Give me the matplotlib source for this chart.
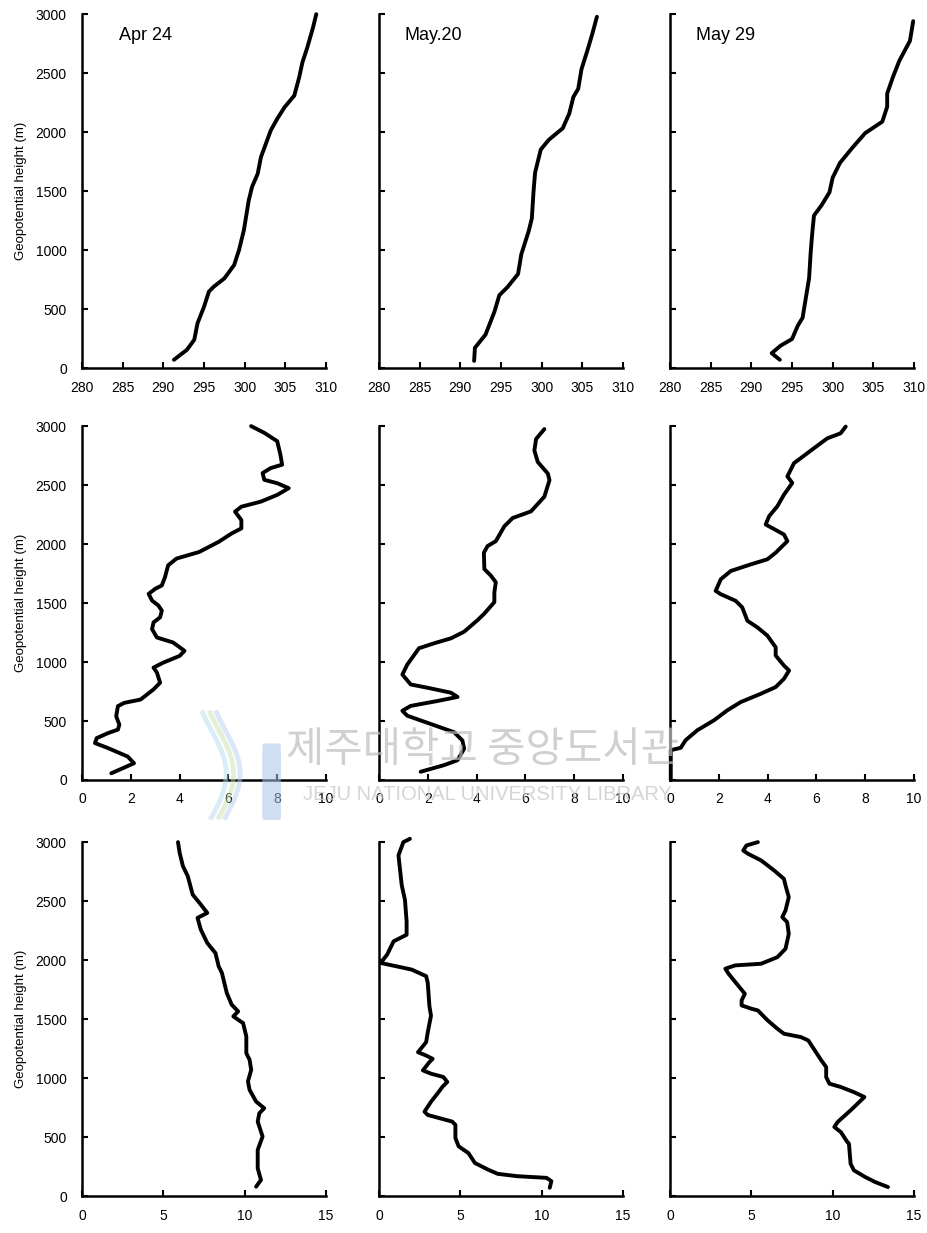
import numpy as np
import matplotlib.pyplot as plt
from matplotlib.patches import FancyBboxPatch

plt.rcParams['font.family'] = ['Liberation Sans', 'DejaVu Sans']

dates = ['Apr 24', 'May.20', 'May 29']

# row 1: potential temperature (K)
theta_apr24_x = [291.3, 292.9, 293.8, 294.2, 295.0, 295.6, 296.2, 297.5, 298.7, 299.3, 299.9, 300.5,
                 300.9, 301.6, 302.0, 302.6, 303.2, 304.0, 304.9, 306.1, 306.7, 307.1, 307.7, 308.4, 308.8]
theta_apr24_z = [70, 155, 240, 380, 520, 648, 690, 760, 873, 1000, 1169, 1422,
                 1535, 1648, 1789, 1901, 2014, 2113, 2211, 2310, 2465, 2592, 2718, 2887, 3000]

theta_may20_x = [291.7, 291.8, 293.1, 294.2, 294.8, 295.8, 297.1, 297.5, 298.4, 298.8, 299.0, 299.2,
                 299.9, 300.9, 302.6, 303.4, 303.9, 304.5, 304.9, 305.6, 306.2, 306.8]
theta_may20_z = [61, 172, 283, 478, 617, 686, 797, 964, 1158, 1269, 1492, 1658,
                 1853, 1936, 2033, 2158, 2297, 2367, 2533, 2686, 2825, 2978]

theta_may29_x = [293.5, 292.5, 293.6, 295.0, 295.7, 296.3, 296.7, 297.1, 297.3, 297.5, 297.7, 298.6,
                 299.6, 300.0, 300.9, 302.4, 304.0, 306.1, 306.7, 306.7, 307.4, 308.2, 309.5, 309.9]
theta_may29_z = [70, 126, 190, 246, 358, 427, 595, 763, 986, 1154, 1293, 1377,
                 1489, 1615, 1740, 1866, 1992, 2089, 2215, 2327, 2466, 2606, 2774, 2941]

# row 2: 0-10 scale
q_apr24_x = [1.2, 2.13, 1.87, 1.07, 0.53, 0.6, 1.07, 1.47, 1.53, 1.4, 1.47, 1.73, 2.4, 2.93, 3.2, 3.07,
             2.93, 3.33, 4.0, 4.2, 3.73, 3.07, 2.87, 2.93, 3.2, 3.27, 3.13, 2.87, 2.73, 3.0, 3.27, 3.4,
             3.53, 3.87, 4.8, 5.6, 6.13, 6.53, 6.53, 6.27, 6.53, 7.33, 8.0, 8.47, 8.0, 7.47, 7.4, 7.73,
             8.2, 8.13, 8.0, 7.47, 6.93]
q_apr24_z = [57, 142, 199, 270, 313, 355, 398, 427, 469, 540, 626, 654, 682, 768, 825, 910,
             953, 995, 1052, 1095, 1166, 1208, 1279, 1336, 1379, 1436, 1479, 1521, 1578, 1621, 1649, 1720,
             1820, 1877, 1933, 2019, 2090, 2133, 2204, 2275, 2317, 2360, 2417, 2474, 2516, 2545, 2602, 2644,
             2673, 2758, 2872, 2943, 3000]

q_may20_x = [1.71, 2.67, 3.22, 3.49, 3.42, 3.08, 2.12, 1.16, 0.96, 1.3, 2.4, 3.22, 2.95, 1.99, 1.3, 0.96,
             1.16, 1.64, 2.26, 2.95, 3.49, 4.04, 4.32, 4.73, 4.73, 4.79, 4.59, 4.32, 4.3, 4.45, 4.79, 5.14,
             5.48, 6.23, 6.78, 6.99, 6.92, 6.51, 6.37, 6.44, 6.78]
q_may20_z = [70, 126, 168, 265, 335, 405, 475, 545, 587, 628, 670, 704, 740, 782, 810, 894,
             978, 1117, 1159, 1201, 1257, 1355, 1411, 1508, 1592, 1676, 1732, 1788, 1927, 1983, 2025, 2151,
             2221, 2277, 2402, 2542, 2598, 2696, 2793, 2891, 2975]

q_may29_x = [0.03, 0.03, 0.44, 0.64, 1.12, 1.8, 2.35, 2.9, 3.72, 4.33, 4.67, 4.88, 4.67, 4.33, 4.33, 3.99,
             3.58, 3.17, 2.96, 2.69, 2.08, 1.87, 2.08, 2.49, 3.31, 3.99, 4.33, 4.81, 4.67, 3.92, 4.06, 4.4,
             4.67, 5.01, 4.81, 5.08, 5.36, 5.9, 6.45, 6.99, 7.2]
q_may29_z = [0, 253, 273, 338, 422, 506, 591, 661, 731, 788, 858, 928, 970, 1055, 1125, 1224,
             1294, 1350, 1463, 1519, 1575, 1603, 1702, 1772, 1828, 1871, 1927, 2025, 2081, 2166, 2236, 2321,
             2419, 2518, 2574, 2686, 2729, 2813, 2897, 2939, 2996]

# row 3: 0-15 scale
w_apr24_x = [10.7, 11.0, 10.8, 10.8, 11.1, 10.8, 10.9, 11.2, 10.7, 10.3, 10.2, 10.4, 10.3, 10.1, 10.1, 9.9,
             9.6, 9.3, 9.6, 9.2, 8.9, 8.6, 8.4, 8.2, 7.7, 7.3, 7.1, 7.3, 7.7, 7.3, 6.8, 6.5,
             6.2, 6.0, 5.9]
w_apr24_z = [79, 136, 235, 391, 504, 631, 702, 744, 801, 900, 971, 1070, 1155, 1211, 1353, 1466,
             1494, 1523, 1565, 1622, 1721, 1891, 1947, 2060, 2145, 2259, 2358, 2372, 2400, 2471, 2556, 2712,
             2797, 2910, 3000]

w_may20_x = [10.5, 10.6, 10.3, 8.5, 7.3, 6.7, 5.9, 5.5, 4.9, 4.7, 4.7, 4.5, 3.0, 2.8, 3.2, 3.6,
             3.9, 4.2, 3.96, 3.2, 2.7, 3.1, 3.3, 2.9, 2.4, 2.9, 3.0, 3.2, 3.1, 3.0, 2.9, 2.0,
             0.1, 0.5, 0.9, 1.7, 1.7, 1.6, 1.4, 1.3, 1.2, 1.5, 1.9]
w_may20_z = [70, 126, 154, 168, 188, 224, 280, 364, 421, 491, 603, 631, 687, 715, 799, 869,
             925, 967, 1009, 1037, 1065, 1135, 1163, 1191, 1219, 1304, 1388, 1528, 1612, 1808, 1864, 1920,
             1976, 2046, 2159, 2215, 2327, 2509, 2635, 2761, 2888, 3000, 3028]

w_may29_x = [13.4, 12.6, 12.0, 11.3, 11.1, 11.0, 10.9, 10.5, 10.1, 10.3, 11.1, 11.95, 11.3, 10.5, 9.8, 9.6,
             9.6, 9.3, 8.9, 8.5, 8.05, 7.0, 6.6, 6.0, 5.4, 5.0, 4.4, 4.4, 4.6, 4.1, 3.6, 3.4,
             4.0, 5.6, 6.6, 7.1, 7.3, 7.2, 6.9, 7.1, 7.3, 7.1, 7.0, 6.4, 5.6, 4.8, 4.5, 4.7, 5.4]
w_may29_z = [76, 119, 161, 218, 274, 443, 458, 542, 585, 627, 726, 839, 881, 924, 952, 1008,
             1093, 1150, 1234, 1319, 1347, 1376, 1418, 1489, 1573, 1588, 1616, 1658, 1715, 1799, 1884, 1927,
             1955, 1969, 2025, 2096, 2223, 2322, 2364, 2421, 2534, 2633, 2689, 2760, 2845, 2901, 2929, 2972, 3000]

rows = [
    [(theta_apr24_x, theta_apr24_z), (theta_may20_x, theta_may20_z), (theta_may29_x, theta_may29_z)],
    [(q_apr24_x, q_apr24_z), (q_may20_x, q_may20_z), (q_may29_x, q_may29_z)],
    [(w_apr24_x, w_apr24_z), (w_may20_x, w_may20_z), (w_may29_x, w_may29_z)],
]
xlims = [(280, 310), (0, 10), (0, 15)]
xsteps = [5, 2, 5]

fig = plt.figure(figsize=(9.27, 12.33), dpi=100)

lefts = [0.0885, 0.4088, 0.7228]
bottoms = [0.7015, 0.3674, 0.0300]
W, H = 0.2632, 0.287

for r in range(3):
    for c in range(3):
        ax = fig.add_axes([lefts[c], bottoms[r], W, H])
        x, z = rows[r][c]
        ax.plot(x, z, color='black', lw=2.8, solid_joinstyle='round',
                solid_capstyle='round', clip_on=False)
        lo, hi = xlims[r]
        ax.set_xlim(lo, hi)
        ax.set_ylim(0, 3000)
        ax.set_xticks(np.arange(lo, hi + 0.1, xsteps[r]))
        ax.set_yticks(np.arange(0, 3001, 500))
        for s in ['top', 'right']:
            ax.spines[s].set_visible(False)
        for s in ['left', 'bottom']:
            ax.spines[s].set_linewidth(1.8)
        ax.tick_params(direction='in', length=4, width=1.5, labelsize=10)
        ax.tick_params(axis='x', pad=9)
        ax.tick_params(axis='y', pad=11)
        if c == 0:
            ax.set_ylabel('Geopotential height (m)', fontsize=9.5, labelpad=6)
        else:
            ax.set_yticklabels([])
        if r == 0:
            ax.text(0.15 if c == 0 else 0.105, 0.94, dates[c], transform=ax.transAxes,
                    fontsize=13, va='center', ha='left')

# library stamp across the middle row
fig.text(0.521, 0.391, '제주대학교 중앙도서관', fontsize=30, color='#bdbdbd', alpha=0.7,
         ha='center', va='center', family=['Noto Sans CJK KR', 'DejaVu Sans'])
fig.text(0.526, 0.356, 'JEJU NATIONAL UNIVERSITY LIBRARY', fontsize=14.5, color='#c8c8c8',
         alpha=0.75, ha='center', va='center')
logo = FancyBboxPatch((0.285, 0.337), 0.016, 0.058, boxstyle='round,pad=0.002',
                      transform=fig.transFigure, fc='#a9c4e6', ec='none', alpha=0.55)
fig.patches.append(logo)
t = np.linspace(0, 1, 50)
for dx, col in [(0.0, '#b6dcef'), (0.008, '#c8e2b0'), (0.015, '#b9d0ee')]:
    fig.lines.append(plt.Line2D(0.228 + dx + 0.016 * np.sin(np.pi * t * 1.2),
                                0.337 + 0.085 * t, transform=fig.transFigure,
                                color=col, lw=3.5, alpha=0.5))

fig.savefig('out.png', dpi=100)
